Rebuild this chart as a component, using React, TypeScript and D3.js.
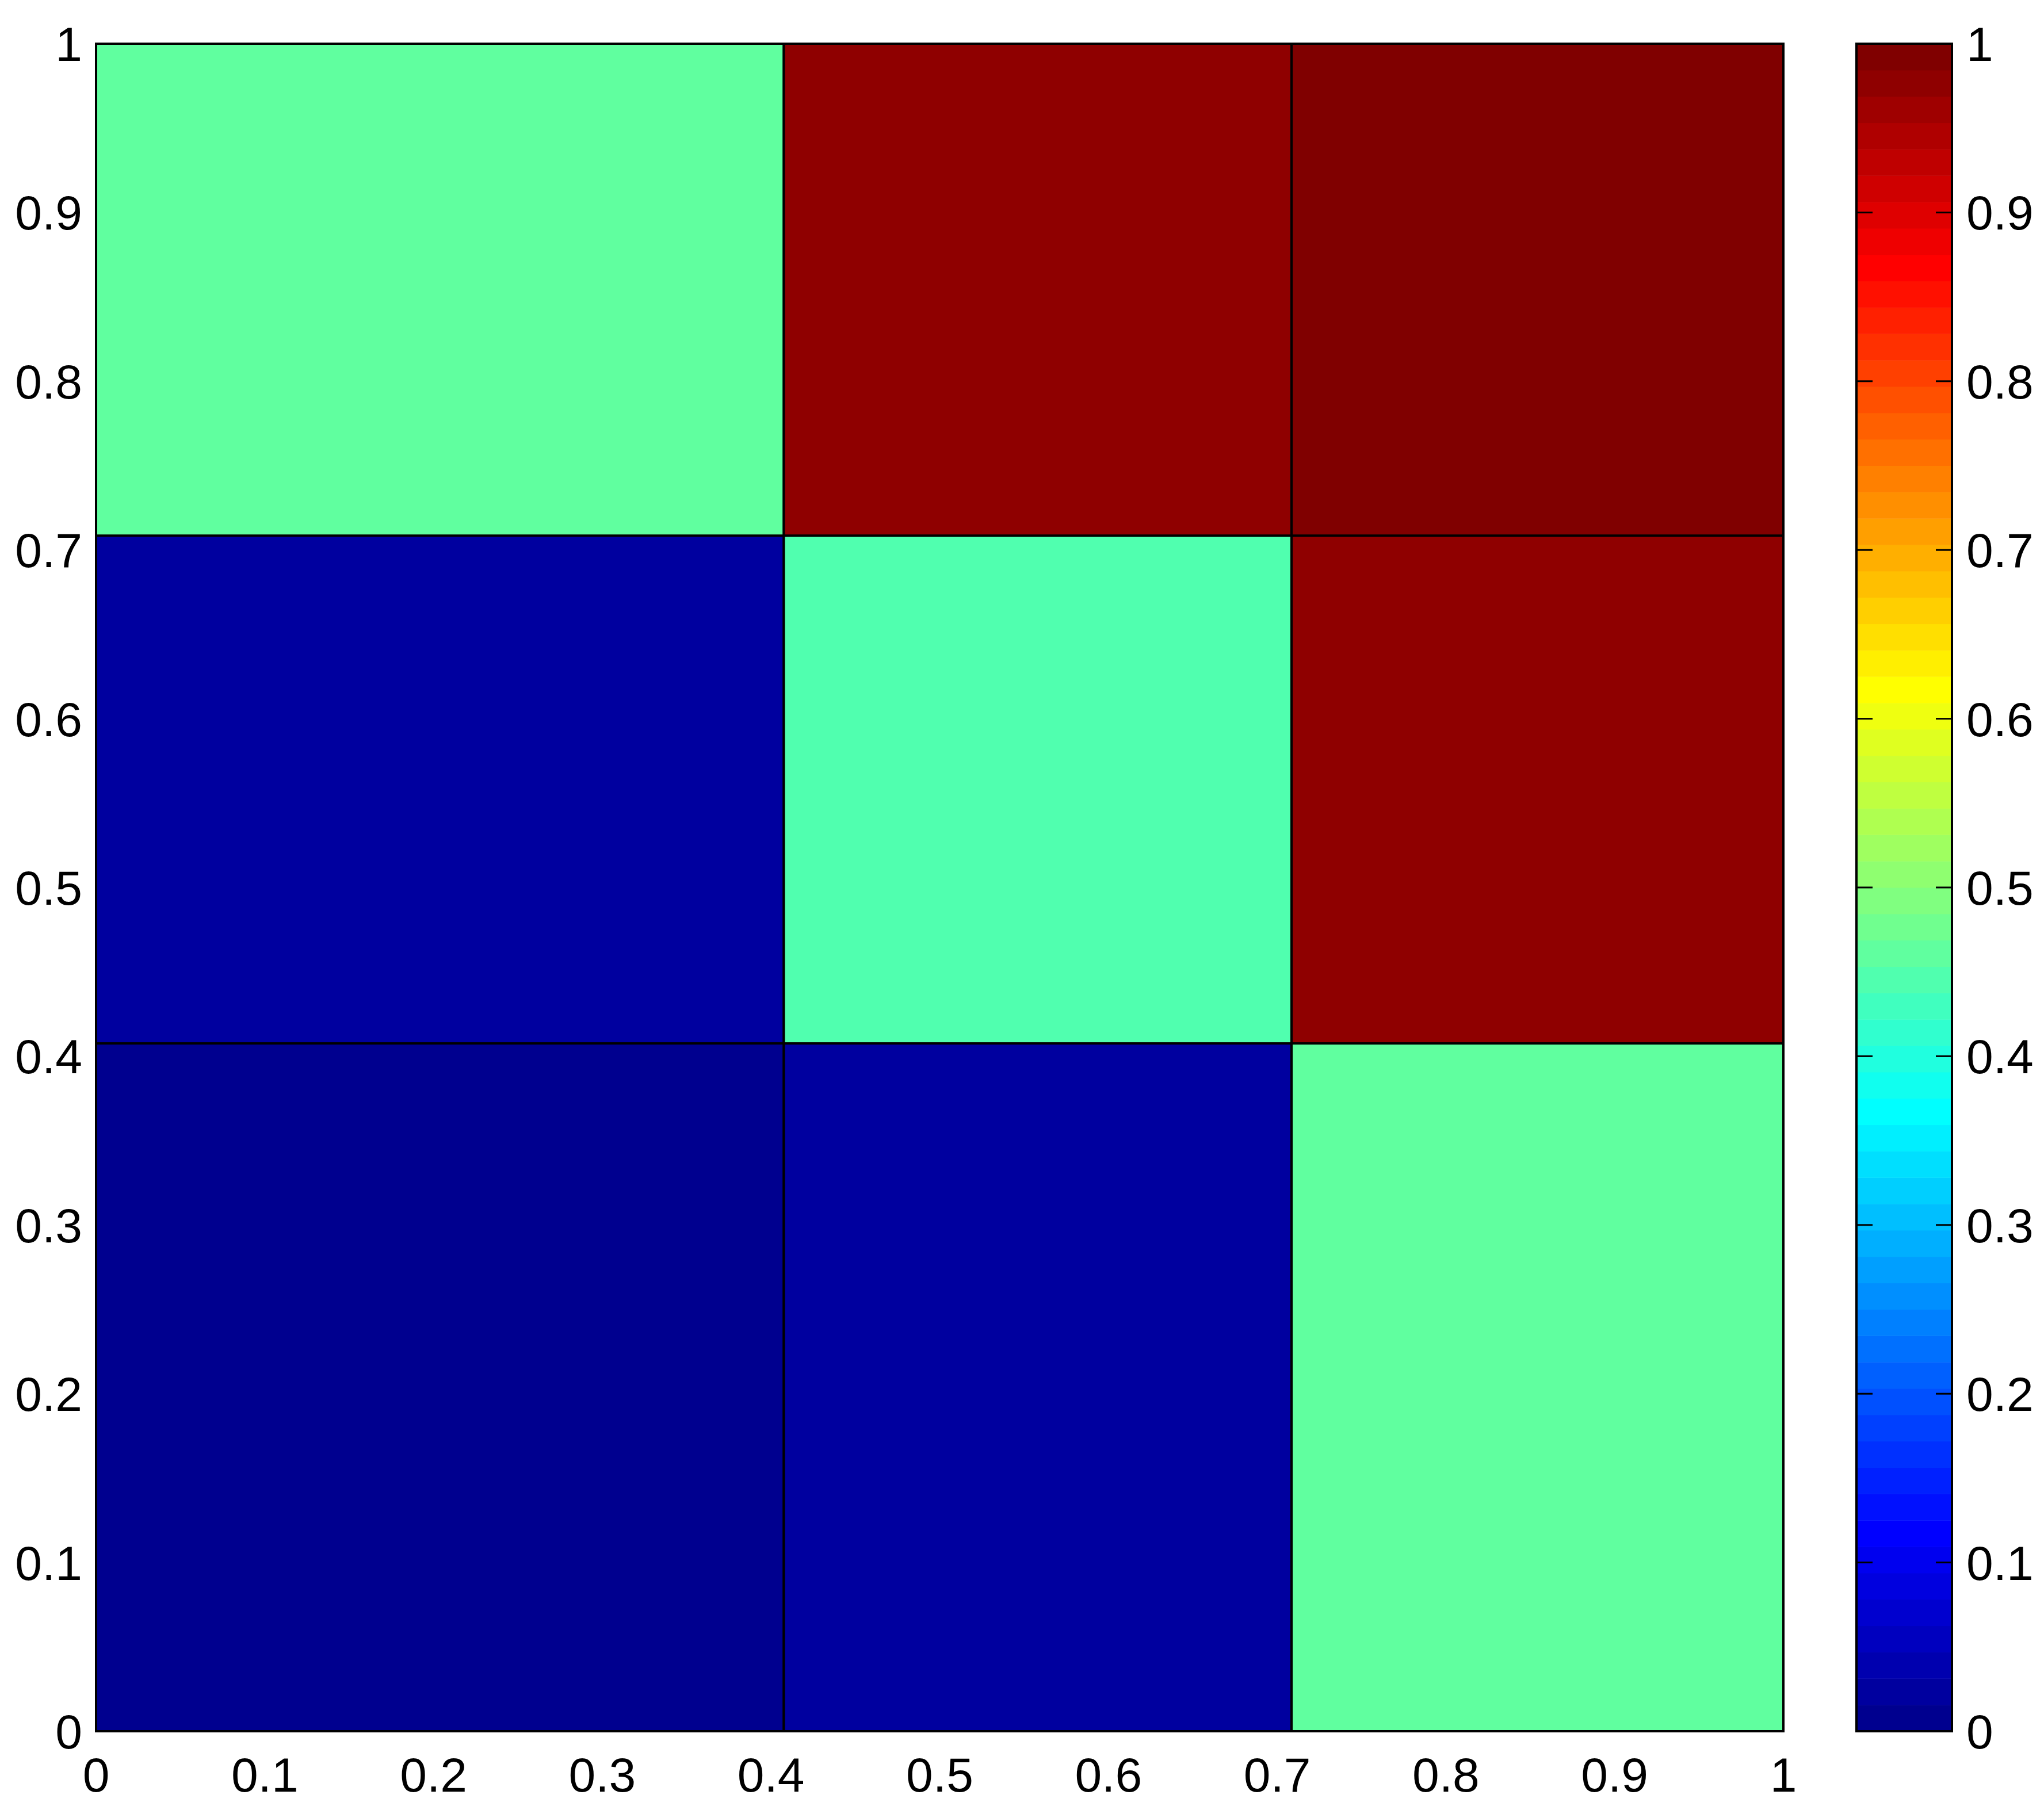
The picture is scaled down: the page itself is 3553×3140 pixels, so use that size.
import React from 'react';
import * as d3 from 'd3';

// Cell edges (pcolor grid) and values (rows from bottom to top)
const xEdges = [0, 0.4076, 0.7085, 1];
const yEdges = [0, 0.4076, 0.7085, 1];
const rowBottom = [0.0, 0.02, 0.46];
const rowMiddle = [0.02, 0.44, 0.97];
const rowTop = [0.46, 0.97, 1.0];
const cellValues = [rowBottom, rowMiddle, rowTop];
const axisTicks = [0, 0.1, 0.2, 0.3, 0.4, 0.5, 0.6, 0.7, 0.8, 0.9, 1];
const colorbarTicks = [0, 0.1, 0.2, 0.3, 0.4, 0.5, 0.6, 0.7, 0.8, 0.9, 1];
const nColors = 64;

// MATLAB jet colormap
function jet(m: number): string[] {
  const n = Math.ceil(m / 4);
  const u: number[] = [];
  for (let i = 1; i <= n; i++) u.push(i / n);
  for (let i = 1; i < n; i++) u.push(1);
  for (let i = n; i >= 1; i--) u.push(i / n);
  const g0 = Math.ceil(n / 2) - (m % 4 === 1 ? 1 : 0);
  const r = new Array(m).fill(0), g = new Array(m).fill(0), b = new Array(m).fill(0);
  for (let k = 1; k <= u.length; k++) {
    const gi = g0 + k, ri = gi + n, bi = gi - n;
    if (ri >= 1 && ri <= m) r[ri - 1] = u[k - 1];
    if (gi >= 1 && gi <= m) g[gi - 1] = u[k - 1];
    if (bi >= 1 && bi <= m) b[bi - 1] = u[k - 1];
  }
  return r.map((_, i) => d3.rgb(Math.round(r[i] * 255), Math.round(g[i] * 255), Math.round(b[i] * 255)).formatHex());
}

const cmap = jet(nColors);
const colorOf = (v: number) => cmap[Math.max(0, Math.min(nColors - 1, Math.floor(v * nColors)))];

const W = 3553, H = 3140;
const plot = { left: 167, right: 3100, top: 76, bottom: 3010 };
const cbar = { left: 3227, right: 3393 };
const FONT = "'Liberation Sans', Arial, Helvetica, sans-serif";
const FS = 84;

export default function App() {
  const x = d3.scaleLinear().domain([0, 1]).range([plot.left, plot.right]);
  const y = d3.scaleLinear().domain([0, 1]).range([plot.bottom, plot.top]);
  const cy = d3.scaleLinear().domain([0, 1]).range([plot.bottom, plot.top]);
  const fmt = (v: number) => (v === 0 ? '0' : v === 1 ? '1' : d3.format('.1f')(v));

  const cells: React.ReactNode[] = [];
  cellValues.forEach((row, ri) => {
    row.forEach((v, ci) => {
      const x0 = x(xEdges[ci]), x1 = x(xEdges[ci + 1]);
      const y0 = y(yEdges[ri + 1]), y1 = y(yEdges[ri]);
      cells.push(
        <rect key={`c${ri}-${ci}`} x={x0} y={y0} width={x1 - x0} height={y1 - y0}
          fill={colorOf(v)} stroke="#000" strokeWidth={4} />
      );
    });
  });

  const bands = cmap.map((c, i) => {
    const y0 = cy((i + 1) / nColors), y1 = cy(i / nColors);
    return <rect key={`b${i}`} x={cbar.left} y={y0} width={cbar.right - cbar.left} height={y1 - y0 + 0.5} fill={c} />;
  });

  return (
    <svg width={W} height={H} style={{ position: 'absolute', left: 0, top: 0, background: '#fff' }}
      fontFamily={FONT} fontSize={FS}>
      <rect x={0} y={0} width={W} height={H} fill="#fff" />
      {cells}
      <rect x={plot.left} y={plot.top} width={plot.right - plot.left} height={plot.bottom - plot.top}
        fill="none" stroke="#000" strokeWidth={4} />
      {axisTicks.map(t => (
        <text key={`xt${t}`} x={x(t)} y={3115} textAnchor="middle" fill="#000">{fmt(t)}</text>
      ))}
      {axisTicks.map(t => (
        <text key={`yt${t}`} x={143} y={y(t) + 30} textAnchor="end" fill="#000">{fmt(t)}</text>
      ))}
      {bands}
      {colorbarTicks.map(t => (
        <g key={`ct${t}`}>
          <line x1={cbar.left} x2={cbar.left + 28} y1={cy(t)} y2={cy(t)} stroke="#000" strokeWidth={3} />
          <line x1={cbar.right - 28} x2={cbar.right} y1={cy(t)} y2={cy(t)} stroke="#000" strokeWidth={3} />
          <text x={3418} y={cy(t) + 30} textAnchor="start" fill="#000">{fmt(t)}</text>
        </g>
      ))}
      <rect x={cbar.left} y={plot.top} width={cbar.right - cbar.left} height={plot.bottom - plot.top}
        fill="none" stroke="#000" strokeWidth={4} />
    </svg>
  );
}
